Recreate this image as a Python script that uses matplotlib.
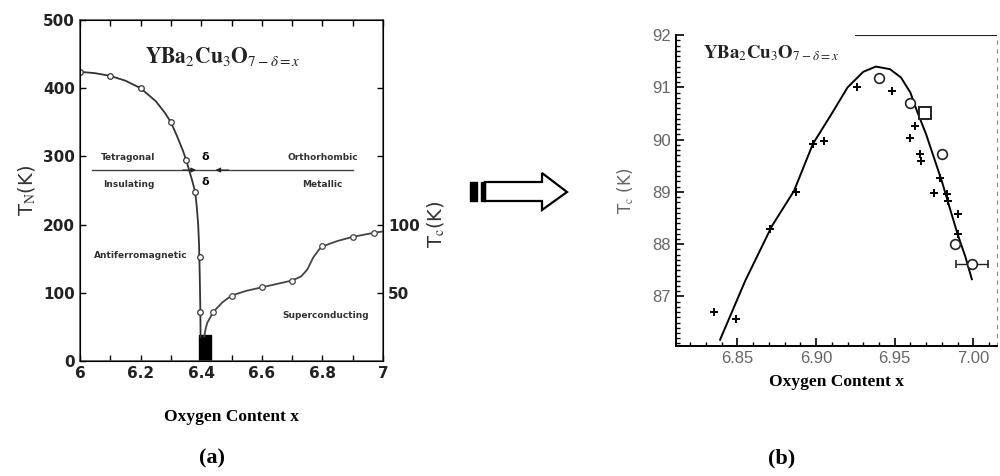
import matplotlib
matplotlib.use('Agg')
import matplotlib.pyplot as plt
from matplotlib.patches import Polygon, Rectangle
from matplotlib.ticker import MultipleLocator

plt.rcParams['mathtext.fontset'] = 'stix'

# ---- panel (a) data ----
tn_line_x = [6.0, 6.05, 6.1, 6.15, 6.2, 6.25, 6.28, 6.3, 6.32, 6.34, 6.35, 6.36,
             6.37, 6.38, 6.385, 6.39, 6.393, 6.395, 6.397, 6.398]
tn_line_y = [424, 422, 418, 411, 400, 381, 364, 350, 330, 308, 295, 280,
             265, 248, 228, 200, 170, 130, 80, 35]
tn_pts_x = [6.0, 6.1, 6.2, 6.3, 6.35, 6.38, 6.395, 6.396]
tn_pts_y = [424, 418, 400, 350, 295, 248, 152, 72]

tc_line_x = [6.41, 6.415, 6.42, 6.43, 6.44, 6.47, 6.5, 6.55, 6.6, 6.65, 6.7, 6.73,
             6.75, 6.77, 6.79, 6.8, 6.85, 6.9, 6.97, 7.0]
tc_line_y = [18, 24, 28, 32, 36, 43, 48, 51.5, 54, 56.5, 59, 62,
             67, 76, 82, 84, 88, 91, 94, 95]
tc_pts_x = [6.44, 6.5, 6.6, 6.7, 6.8, 6.9, 6.97]
tc_pts_y = [36, 48, 54, 59, 84, 91, 94]

block_x = [6.392, 6.432]
block_top = 38
phase_line_x = [6.04, 6.9]
phase_line_y = 280

a_xticks = [6, 6.2, 6.4, 6.6, 6.8, 7]
a_xlabels = ['6', '6.2', '6.4', '6.6', '6.8', '7']

# ---- panel (b) data ----
fit_x = [6.839, 6.855, 6.872, 6.886, 6.898, 6.91, 6.92, 6.93, 6.938, 6.947, 6.954,
         6.96, 6.964, 6.97, 6.975, 6.98, 6.985, 6.99, 6.995, 6.999]
fit_y = [86.17, 87.3, 88.35, 89.02, 89.92, 90.5, 91.0, 91.3, 91.4, 91.35, 91.19,
         90.9, 90.56, 90.1, 89.65, 89.2, 88.69, 88.19, 87.75, 87.33]
plus_x = [6.835, 6.849, 6.871, 6.887, 6.898, 6.905, 6.926, 6.948, 6.959, 6.963, 6.960,
          6.966, 6.967, 6.975, 6.979, 6.983, 6.984, 6.990, 6.990]
plus_y = [86.71, 86.56, 88.3, 89.0, 89.92, 89.98, 91.0, 90.94, 90.69, 90.27, 90.04,
          89.73, 89.6, 88.98, 89.27, 88.96, 88.83, 88.58, 88.2]
circ_x = [6.940, 6.960, 6.980, 6.988]
circ_y = [91.19, 90.71, 89.73, 88.0]
err_x, err_y, err_dx = 6.999, 87.62, 0.01
sq_x, sq_y = 6.969, 90.52

fig = plt.figure(figsize=(10, 4.76), dpi=100)

serif = 'Liberation Serif'
title_txt = r'$\mathbf{YBa}_{2}\mathbf{Cu}_{3}\mathbf{O}_{7-\delta=x}$'

# ================= panel (a) =================
ax = fig.add_axes([0.08, 0.2416, 0.303, 0.7164])
ax.plot(tn_line_x, tn_line_y, color='#333', lw=1.3)
ax.plot(tn_pts_x, tn_pts_y, 'o', mfc='white', mec='#333', ms=4, mew=0.9)
ax.fill_between(block_x, 0, block_top, color='black')
ax.plot(phase_line_x, [phase_line_y] * 2, color='#444', lw=1.0)
ax.annotate('', xy=(6.392, phase_line_y), xytext=(6.33, phase_line_y),
            arrowprops=dict(arrowstyle='-|>', color='#222', lw=0.8, mutation_scale=7))
ax.annotate('', xy=(6.438, phase_line_y), xytext=(6.5, phase_line_y),
            arrowprops=dict(arrowstyle='-|>', color='#222', lw=0.8, mutation_scale=7))
ax.text(6.415, 292, 'δ', ha='center', va='bottom', fontsize=8, fontweight='bold')
ax.text(6.415, 270, 'δ', ha='center', va='top', fontsize=8, fontweight='bold')

lab = dict(fontsize=6.5, fontweight='bold', color='#333', ha='center', va='center')
ax.text(6.16, 299, 'Tetragonal', **lab)
ax.text(6.80, 299, 'Orthorhombic', **lab)
ax.text(6.16, 259, 'Insulating', **lab)
ax.text(6.80, 259, 'Metallic', **lab)
ax.text(6.20, 155, 'Antiferromagnetic', **lab)
ax.text(6.81, 66, 'Superconducting', **lab)
ax.text(6.47, 447, title_txt, ha='center', va='center', fontsize=15.5,
        family=serif, color='#222')

ax.set_xlim(6, 7)
ax.set_ylim(0, 500)
ax.set_xticks(a_xticks)
ax.set_xticklabels(a_xlabels)
ax.xaxis.set_minor_locator(MultipleLocator(0.1))
ax.yaxis.set_major_locator(MultipleLocator(100))
ax.tick_params(which='both', direction='in', top=True, right=False, length=4, width=1)
for t in ax.get_xticklabels() + ax.get_yticklabels():
    t.set_fontweight('heavy')
    t.set_fontsize(11)
    t.set_color('#222')
for s in ax.spines.values():
    s.set_linewidth(1.1)
    s.set_color('#444')
ax.set_ylabel(r'T$_{\mathrm{N}}$(K)', fontsize=14, color='#333', labelpad=4)
ax.set_xlabel('Oxygen Content x', fontsize=12.5, family=serif, fontweight='bold',
              labelpad=20)

ax2 = ax.twinx()
ax2.set_ylim(0, 250)
ax2.set_yticks([50, 100, 150, 200])
ax2.set_yticklabels(['50', '100', '', ''])
ax2.tick_params(direction='in', length=4, width=1)
for t in ax2.get_yticklabels():
    t.set_fontweight('heavy')
    t.set_fontsize(11)
    t.set_color('#222')
ax2.plot(tc_line_x, tc_line_y, color='#444', lw=1.3)
ax2.plot(tc_pts_x, tc_pts_y, 'o', mfc='white', mec='#444', ms=4, mew=0.9)
ax2.set_ylabel(r'T$_{\mathrm{c}}$(K)', fontsize=14, color='#333', labelpad=4)
ax2.yaxis.set_label_coords(1.14, 0.40)

# ================= panel (b) =================
bx = fig.add_axes([0.676, 0.273, 0.321, 0.653])
bx.plot(fit_x, fit_y, color='black', lw=1.4)
bx.plot(plus_x, plus_y, '+', color='black', ms=6, mew=1.4)
bx.plot(circ_x, circ_y, 'o', mfc='white', mec='#222', ms=7, mew=1.2)
bx.errorbar([err_x], [err_y], xerr=[err_dx], fmt='o', mfc='white', mec='#222',
            ecolor='#222', ms=7, mew=1.2, elinewidth=1.0, capsize=3)
bx.plot([sq_x], [sq_y], 's', mfc='white', mec='#222', ms=8, mew=1.4)

bx.set_xlim(6.811, 7.015)
bx.set_ylim(86.05, 92)
bx.xaxis.set_major_locator(MultipleLocator(0.05))
bx.xaxis.set_minor_locator(MultipleLocator(0.01))
bx.yaxis.set_major_locator(MultipleLocator(1))
bx.yaxis.set_minor_locator(MultipleLocator(0.1))
bx.tick_params(which='major', direction='in', length=6, width=1.2,
               labelsize=12, labelcolor='#666', top=False, right=False)
bx.tick_params(which='minor', direction='in', length=3, width=1.0, top=False, right=False)
bx.spines['top'].set_visible(False)
bx.axhline(92, xmin=0.56, xmax=1, color='#222', lw=1.5)
bx.spines['right'].set_linestyle((0, (3, 5)))
bx.spines['right'].set_color('#888')
bx.spines['left'].set_linewidth(1.4)
bx.spines['bottom'].set_linewidth(1.4)
for t in bx.get_xticklabels() + bx.get_yticklabels():
    t.set_family('Liberation Sans')
bx.text(6.828, 91.65, title_txt, ha='left', va='center', fontsize=13.5,
        family=serif, color='#222')
bx.set_ylabel(r'T$_{\mathrm{c}}$ (K)', fontsize=12, color='#666', labelpad=12)
bx.set_xlabel('Oxygen Content x', fontsize=12.5, family=serif, fontweight='bold',
              labelpad=6)

# ================= decorations (figure pixel space) =================
deco = fig.add_axes([0, 0, 1, 1])
deco.set_xlim(0, 1000)
deco.set_ylim(476, 0)
deco.axis('off')
deco.add_patch(Polygon([(485, 182), (542, 182), (542, 173), (567, 192),
                        (542, 210), (542, 201), (485, 201)],
                       closed=True, fc='white', ec='black', lw=1.6))
deco.add_patch(Rectangle((470, 182), 7, 19, fc='black', ec='black'))
deco.add_patch(Rectangle((481, 182), 4, 19, fc='black', ec='black'))
deco.text(212, 458, '(a)', ha='center', va='center', fontsize=16,
          family=serif, fontweight='bold')
deco.text(782, 458, '(b)', ha='center', va='center', fontsize=16,
          family=serif, fontweight='bold')

fig.savefig('out.png', dpi=100)
